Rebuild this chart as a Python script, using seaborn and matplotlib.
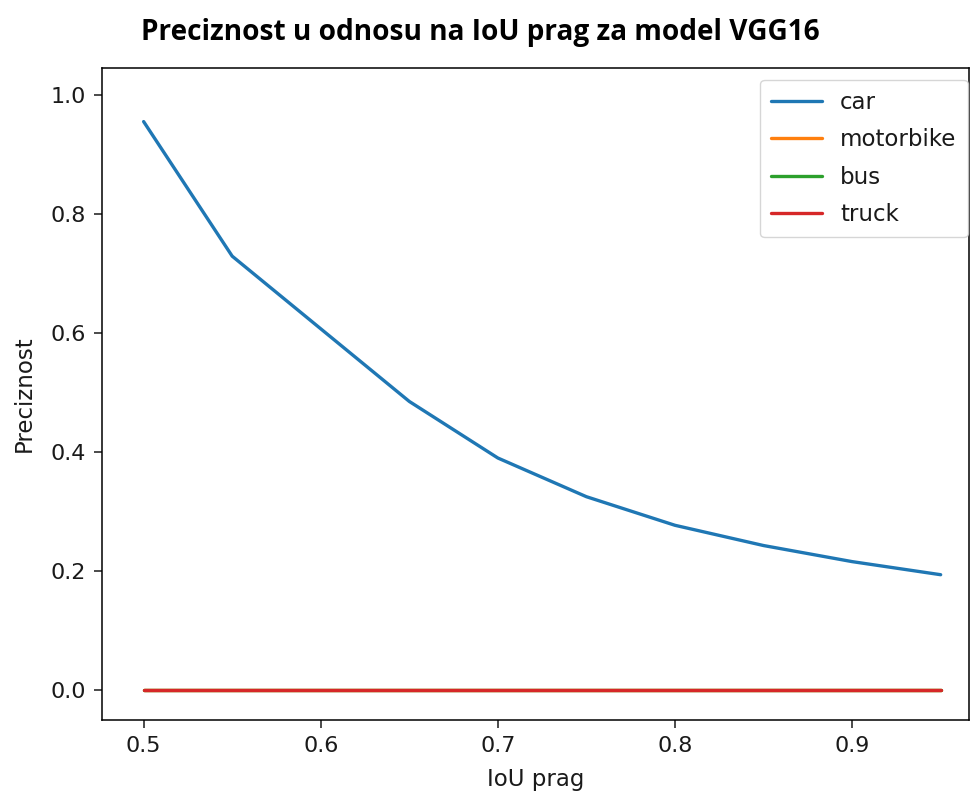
import numpy as np
import pandas as pd
import matplotlib
matplotlib.use("Agg")
import matplotlib.pyplot as plt
import seaborn as sns

iou = [0.5, 0.55, 0.6, 0.65, 0.7, 0.75, 0.8, 0.85, 0.9, 0.95]
car = [0.955, 0.729, 0.607, 0.485, 0.390, 0.325, 0.277, 0.243, 0.216, 0.194]
motorbike = [0.0] * 10
bus = [0.0] * 10
truck = [0.0] * 10
classes = ["car", "motorbike", "bus", "truck"]

sns.set_style("ticks", {"text.color": "#1a1a1a", "axes.labelcolor": "#1a1a1a",
                        "xtick.color": "#1a1a1a", "ytick.color": "#1a1a1a",
                        "axes.edgecolor": "black"})
plt.rcParams['font.family'] = ['DejaVu Sans']

df = pd.DataFrame({
    "IoU prag": iou * 4,
    "Preciznost": car + motorbike + bus + truck,
    "klasa": sum([[c] * len(iou) for c in classes], []),
})

fig = plt.figure(figsize=(9.71, 8.0), dpi=100)
ax = fig.add_axes([102 / 971, 0.1, 867 / 971, 0.815])
sns.lineplot(data=df, x="IoU prag", y="Preciznost", hue="klasa",
             palette=sns.color_palette("tab10", 4), linewidth=2.4, ax=ax)

ax.set_ylim(-0.05, 1.045)
ax.set_xlim(0.4765, 0.9660)
ax.set_xticks([0.5, 0.6, 0.7, 0.8, 0.9])
ax.set_yticks([0.0, 0.2, 0.4, 0.6, 0.8, 1.0])
ax.tick_params(labelsize=16, length=5.5, width=1.1, pad=6)
ax.set_xlabel("IoU prag", fontsize=16.5, labelpad=9)
ax.set_ylabel("Preciznost", fontsize=16.5, labelpad=11)
for s in ax.spines.values():
    s.set_visible(True)
    s.set_color("black")
    s.set_linewidth(1.1)
fig.text(0.495, 0.959, "Preciznost u odnosu na IoU prag za model VGG16",
         ha="center", va="center", fontsize=20.2, fontweight="bold",
         family="Open Sans", color="black")
ax.legend(title=None, loc="upper right", fontsize=16.5, handlelength=2.2,
          borderpad=0.5, labelspacing=0.62, handletextpad=0.8,
          borderaxespad=0, bbox_to_anchor=(0.9988, 0.982))
fig.savefig("out.png", dpi=100)
